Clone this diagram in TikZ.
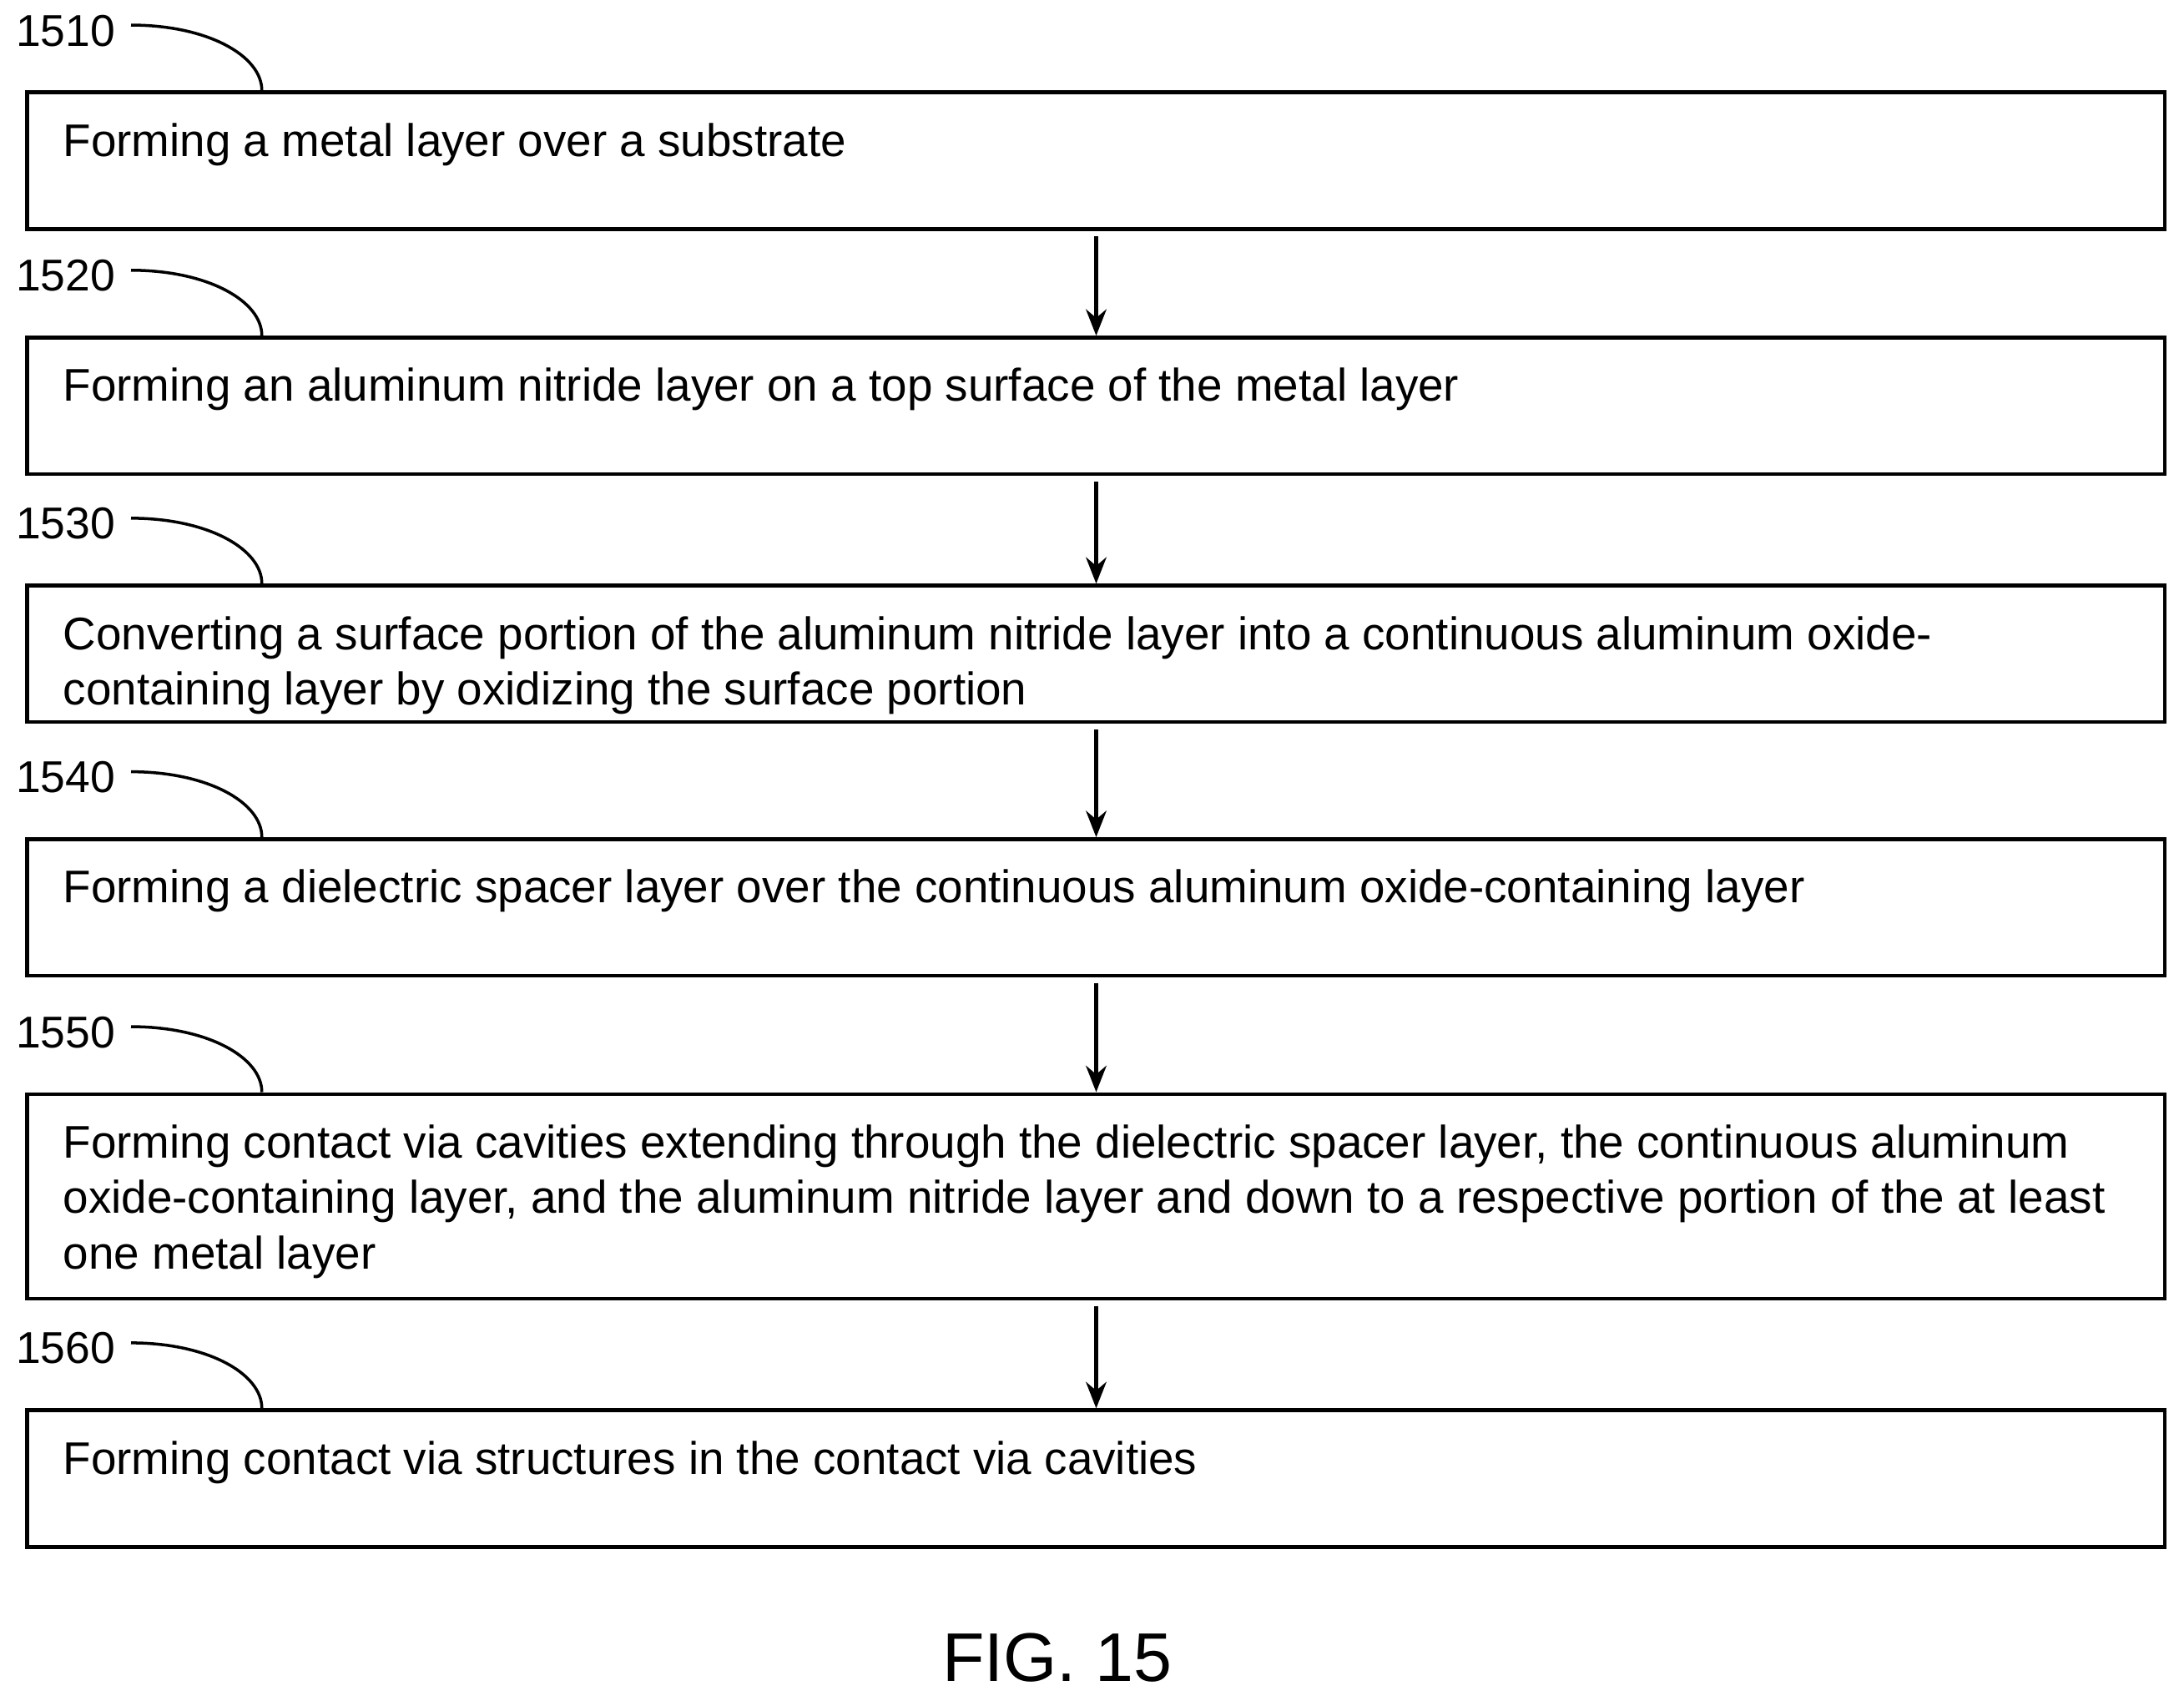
\documentclass[tikz,border=0pt]{standalone}
\usepackage{fontspec}
\setmainfont{Liberation Sans}
\usetikzlibrary{arrows.meta,positioning}

\begin{document}
\begin{tikzpicture}[x=0.01669cm,y=-0.01669cm,line width=1.3pt,
    >={Stealth[length=9pt,width=7pt]}]
  \tikzset{stepbox/.style={draw,rectangle,anchor=north west,inner sep=0pt,minimum width=25.62cm},
           steptext/.style={anchor=north west,inner sep=0pt,align=left,
             font=\fontsize{15.6}{18.9}\selectfont},
           num/.style={anchor=center,inner sep=1pt,font=\fontsize{15.2}{18}\selectfont},
           lead/.style={line width=1pt}}
  \useasboundingbox (0,0) rectangle (1568,1221);
  \coordinate (mid) at (787,0);

  % boxes: name / top / height / label / text
  \foreach \n/\t/\h/\lab/\txt in {
      1/65/98/1510/{Forming a metal layer over a substrate},
      2/241/98/1520/{Forming an aluminum nitride layer on a top surface of the metal layer},
      3/419/98/1530/{Converting a surface portion of the aluminum nitride layer into a continuous aluminum oxide-\\containing layer by oxidizing the surface portion},
      4/601/98/1540/{Forming a dielectric spacer layer over the continuous aluminum oxide-containing layer},
      5/784/147/1550/{Forming contact via cavities extending through the dielectric spacer layer, the continuous aluminum\\oxide-containing layer, and the aluminum nitride layer and down to a respective portion of the at least\\one metal layer},
      6/1011/98/1560/{Forming contact via structures in the contact via cavities}} {
    \node[stepbox,minimum height=\h*0.01669cm] (b\n) at (18,\t) {};
    \node[steptext] (t\n) at (44,\t+22) {\txt};
    \node[num] (n\n) at (47,\t-43) {\lab};
    \draw[lead] (n\n.east) ++(8,-4) coordinate (c\n) .. controls ++(55,0) and (188,\t-25) .. (188,\t);
  }

  \foreach \a/\b in {1/2,2/3,3/4,4/5,5/6}
    \draw[->] (b\a.south -| mid) ++(0,4) -- (b\b.north -| mid);

  \node[font=\fontsize{23.5}{28}\selectfont] (fig) at (759,1190) {FIG. 15};
\end{tikzpicture}
\end{document}
